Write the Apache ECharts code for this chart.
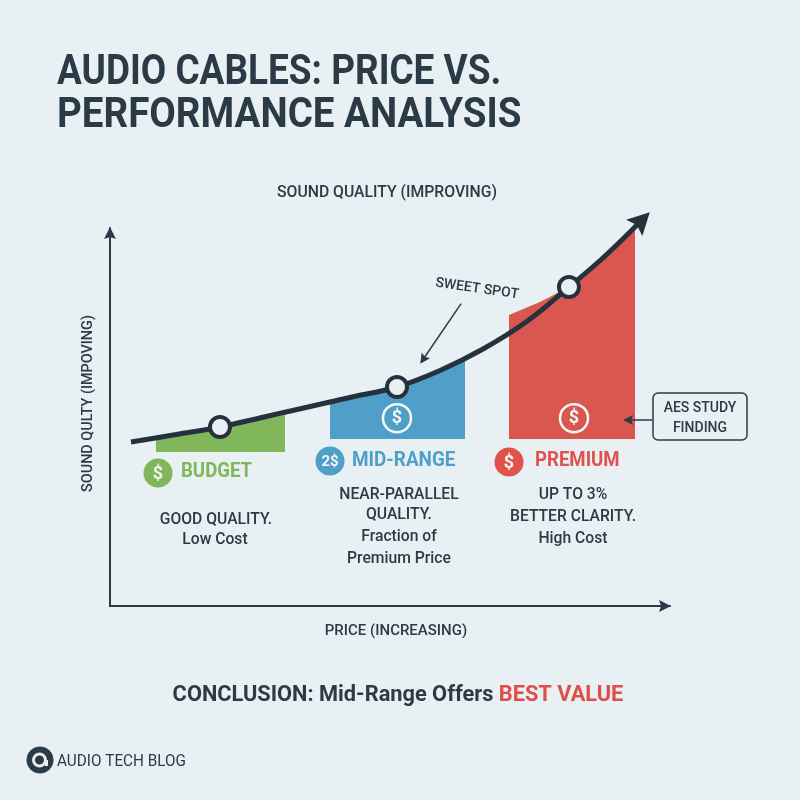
<!DOCTYPE html>
<html>
<head>
<meta charset="utf-8">
<style>html,body{margin:0;padding:0;background:#e9f0f4}#chart{width:800px;height:800px}</style>
<script src="https://cdn.jsdelivr.net/npm/echarts@6/dist/echarts.min.js"></script>
</head>
<body>
<div id="chart"></div>
<script>
// Price runs along x and sound quality along y, both on a 0-100 relative scale.
const qualityCurve = [[3.75,43.39],[11.79,45.37],[19.64,47.35],[27.5,50],[35.36,52.65],[43.21,55.29],[51.25,57.94],[58.93,62.3],[66.61,67.99],[74.29,75.13],[81.96,84.39],[88.21,92.33],[94.64,101.59]];
const curveTip = [[95,102.1]];
const tierPoints = [[19.64,47.35],[51.25,57.94],[81.96,84.39]];
const budgetBand = [[8.21,40.74],[8.21,44.97],[19.64,47.35],[31.25,50.53],[31.25,40.74]];
const midRangeBand = [[39.29,44.18],[39.29,54.23],[51.25,57.94],[63.39,65.08],[63.39,44.18]];
const premiumBand = [[71.25,44.18],[71.25,76.98],[76.79,80.42],[81.96,84.39],[93.75,99.47],[93.75,44.18]];
const sweetSpotArrow = [[62.7,80],[55.9,65.2]];
const studyArrow = [[96.8,49.2],[92.5,49.2]];
const bandIcons = [[51.25,49.7],[82.86,49.7]];
const xAxisName = 'PRICE (INCREASING)';
const yAxisName = 'SOUND QULTY (IMPOVING)';

const DARK = '#2b3a47', LINE = '#25323d', GREEN = '#7fb75a', BLUE = '#4f9fc8', RED = '#d9574f', PAPER = '#e9f0f4';
const FONT = 'Roboto';
const HEAD = 'path://M0,-10 L10,10 L0,6.5 L-10,10 Z';

function band(points, color) {
  return {
    type: 'custom', coordinateSystem: 'cartesian2d', silent: true, z: 2,
    data: points, clip: false,
    renderItem(params, api) {
      if (params.dataIndex !== 0) return;
      return { type: 'polygon', shape: { points: points.map(p => api.coord(p)) }, style: { fill: color } };
    }
  };
}

// Places one line of text; squeeze narrows the glyphs around the anchor point.
function txt(x, y, text, size, color, squeeze, style, node) {
  return Object.assign({
    type: 'text', x, y, z: 20, scaleX: squeeze || 1,
    style: Object.assign({
      text, fill: color, fontFamily: FONT, fontSize: size,
      fontWeight: 500, textAlign: 'center', textVerticalAlign: 'middle'
    }, style)
  }, node);
}

function badge(x, y, r, color, label, labelSize) {
  return [
    { type: 'circle', x, y, z: 20, shape: { cx: 0, cy: 0, r }, style: { fill: color } },
    txt(x, y + 1, label, labelSize, '#f3f6f4', 1, { fontWeight: 700 })
  ];
}

const LEFT_BOLD = { textAlign: 'left', fontWeight: 700 };

const elements = [
  txt(57, 73, 'AUDIO CABLES: PRICE VS.', 42, DARK, 0.88, LEFT_BOLD),
  txt(57, 116, 'PERFORMANCE ANALYSIS', 42, DARK, 0.917, LEFT_BOLD),
  txt(387, 193, 'SOUND QUALITY (IMPROVING)', 16, DARK, 0.985),
  txt(477, 289, 'SWEET SPOT', 14, DARK, 1, null, { rotation: -0.14 }),

  ...badge(158, 473, 14.5, GREEN, '$', 18),
  txt(181, 472, 'BUDGET', 20, GREEN, 0.93, LEFT_BOLD),
  txt(216, 520, 'GOOD QUALITY.', 16, DARK, 0.98),
  txt(215, 540, 'Low Cost', 16, DARK, 0.98),

  ...badge(330, 461, 14.5, BLUE, '2$', 15),
  txt(352, 461, 'MID-RANGE', 20, BLUE, 0.945, LEFT_BOLD),
  txt(399, 495, 'NEAR-PARALLEL', 16, DARK, 0.98),
  txt(399, 515, 'QUALITY.', 16, DARK, 0.98),
  txt(399, 537, 'Fraction of', 16, DARK, 0.98),
  txt(399, 559, 'Premium Price', 16, DARK, 0.98),

  ...badge(509, 462, 14.5, '#e0524b', '$', 18),
  txt(535, 461, 'PREMIUM', 20, '#e0524b', 0.93, LEFT_BOLD),
  txt(573, 495, 'UP TO 3%', 16, DARK, 0.98),
  txt(573, 517, 'BETTER CLARITY.', 16, DARK, 0.98),
  txt(573, 539, 'High Cost', 16, DARK, 0.98),

  { type: 'rect', z: 20, shape: { x: 653, y: 393, width: 94, height: 47, r: 5 }, style: { fill: PAPER, stroke: DARK, lineWidth: 1.5 } },
  txt(700, 408, 'AES STUDY', 14, DARK, 1, null, { z: 21 }),
  txt(700, 428, 'FINDING', 14, DARK, 1, null, { z: 21 }),

  txt(398, 695, '', 22, DARK, 0.99, {
    text: '{d|CONCLUSION: Mid-Range Offers }{r|BEST VALUE}',
    fontWeight: 700,
    rich: {
      d: { fill: DARK, fontFamily: FONT, fontSize: 22, fontWeight: 700 },
      r: { fill: '#df4f49', fontFamily: FONT, fontSize: 22, fontWeight: 700 }
    }
  }),

  // Blog mark: a dark disc with a small ring and tail
  { type: 'circle', z: 20, shape: { cx: 40, cy: 760, r: 13.5 }, style: { fill: DARK } },
  { type: 'circle', z: 21, shape: { cx: 39.5, cy: 760, r: 6 }, style: { fill: 'none', stroke: '#e6ecef', lineWidth: 3 } },
  { type: 'rect', z: 21, shape: { x: 45, y: 760, width: 3, height: 6 }, style: { fill: '#e6ecef' } },
  txt(57, 762, 'AUDIO TECH BLOG', 17, DARK, 0.9, { textAlign: 'left', fontWeight: 400 })
];

const option = {
  backgroundColor: PAPER,
  animation: false,
  graphic: { elements },
  grid: { left: 110, top: 228, width: 560, height: 378 },
  xAxis: {
    type: 'value', min: 0, max: 100,
    name: xAxisName, nameLocation: 'middle', nameGap: 18,
    nameTextStyle: { color: DARK, fontFamily: FONT, fontSize: 15, fontWeight: 500, padding: [0, 0, 0, 12] },
    axisLine: { onZero: false, symbol: ['none', HEAD], symbolSize: [12, 13], symbolOffset: [0, -5], lineStyle: { color: DARK, width: 2 } },
    axisTick: { show: false }, axisLabel: { show: false }, splitLine: { show: false }
  },
  yAxis: {
    type: 'value', min: 0, max: 100,
    name: yAxisName, nameLocation: 'middle', nameGap: 15,
    nameTextStyle: { color: DARK, fontFamily: FONT, fontSize: 14.4, fontWeight: 500, padding: [0, 0, 0, 27] },
    axisLine: { onZero: false, symbol: ['none', HEAD], symbolSize: [12, 13], symbolOffset: [0, -5], lineStyle: { color: DARK, width: 2 } },
    axisTick: { show: false }, axisLabel: { show: false }, splitLine: { show: false }
  },
  series: [
    band(budgetBand, GREEN),
    band(midRangeBand, BLUE),
    band(premiumBand, RED),
    {
      type: 'line', data: qualityCurve, smooth: 0.4, clip: false, z: 5, silent: true,
      symbol: 'none', lineStyle: { color: LINE, width: 5, cap: 'butt' },
      markLine: {
        silent: true, animation: false, symbol: ['none', HEAD], symbolSize: 10,
        label: { show: false }, emphasis: { disabled: true },
        lineStyle: { color: DARK, width: 1.5, type: 'solid' },
        data: [
          [{ coord: sweetSpotArrow[0] }, { coord: sweetSpotArrow[1] }],
          [{ coord: studyArrow[0] }, { coord: studyArrow[1] }]
        ]
      }
    },
    {
      type: 'scatter', data: curveTip, clip: false, z: 6, silent: true,
      symbol: HEAD, symbolSize: [23, 22], symbolRotate: -45,
      itemStyle: { color: LINE, opacity: 1 }
    },
    {
      type: 'scatter', data: tierPoints, clip: false, z: 7, silent: true,
      symbol: 'circle', symbolSize: 20,
      itemStyle: { color: PAPER, borderColor: LINE, borderWidth: 4, opacity: 1 }
    },
    {
      type: 'scatter', data: bandIcons, clip: false, z: 7, silent: true,
      symbol: 'circle', symbolSize: 28,
      itemStyle: { color: 'rgba(0,0,0,0)', borderColor: '#f5f8f8', borderWidth: 2.5, opacity: 1 },
      label: { show: true, position: 'inside', formatter: '$', color: '#f5f8f8', fontFamily: FONT, fontSize: 18, fontWeight: 700 }
    }
  ]
};

echarts.init(document.getElementById('chart'), null, { renderer: 'canvas' }).setOption(option);
</script>
</body>
</html>
